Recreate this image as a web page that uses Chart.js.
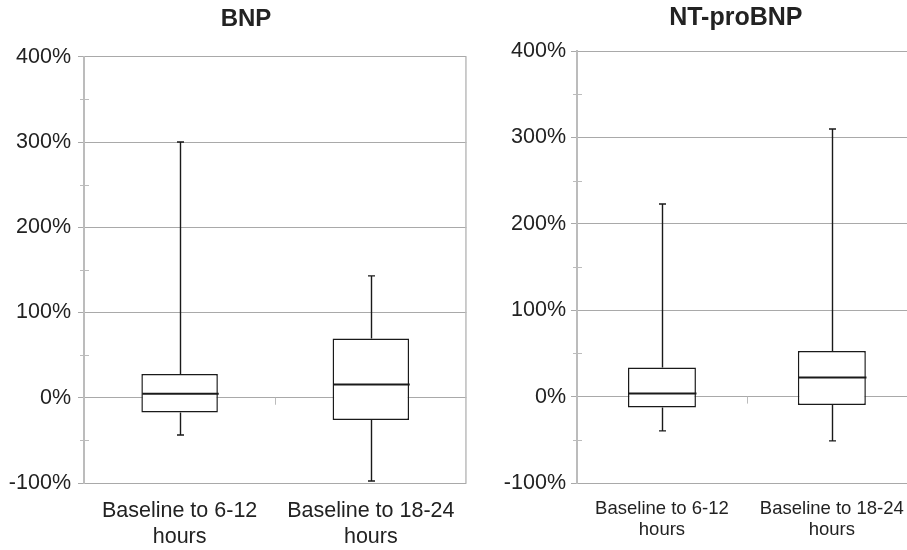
<!DOCTYPE html>
<html>
<head>
<meta charset="utf-8">
<script src="https://cdn.jsdelivr.net/npm/chart.js@4/dist/chart.umd.min.js"></script>
<style>
  html, body { margin: 0; padding: 0; background: #fff; overflow: hidden; width: 907px; height: 550px; }
  .wrap { position: absolute; top: 0; height: 550px; }
  #w1 { left: 0; width: 470px; }
  #w2 { left: 470px; width: 450px; }
</style>
</head>
<body>
<div class="wrap" id="w1"><canvas id="c1"></canvas></div>
<div class="wrap" id="w2"><canvas id="c2"></canvas></div>
<script>
// ---- data ----
const categories = [['Baseline to 6-12', 'hours'], ['Baseline to 18-24', 'hours']];
const yTickValues = [-100, 0, 100, 200, 300, 400];
const yMinorValues = [-50, 50, 150, 250, 350];

const bnpMin    = [-43.7, -97.7];
const bnpQ1     = [-17.2, -26.2];
const bnpMedian = [4.7, 15.6];
const bnpQ3     = [27.8, 69.5];
const bnpMax    = [300, 143];

const ntMin    = [-39.7, -51.3];
const ntQ1     = [-12.7, -9.6];
const ntMedian = [3.5, 22];
const ntQ3     = [33.6, 52.9];
const ntMax    = [223, 309.8];

// ---- styles ----
const FONT = '"Liberation Sans", Arial, Helvetica, sans-serif';
const TEXT = '#222';
const GRID = '#a9a9a9';
const AXIS = '#bcbcbc';
const INK = '#1a1a1a';

const boxPlugin = {
  id: 'boxWhiskers',
  afterLayout(chart) {
    // let the value-axis labels overflow to the left of the (narrow) axis box
    chart.scales.y.left = 0;
  },
  afterDatasetsDraw(chart, args, opts) {
    const ctx = chart.ctx;
    const xs = chart.scales.x, ys = chart.scales.y;
    const meta = chart.getDatasetMeta(0);
    const st = opts.stats;
    ctx.save();
    ctx.strokeStyle = INK;
    for (let i = 0; i < st.min.length; i++) {
      const x = Math.round(xs.getPixelForValue(i)) + 0.5;
      const half = meta.data[i].width / 2;
      const yMin = ys.getPixelForValue(st.min[i]);
      const yQ1 = ys.getPixelForValue(st.q1[i]);
      const yMed = ys.getPixelForValue(st.median[i]);
      const yQ3 = ys.getPixelForValue(st.q3[i]);
      const yMax = ys.getPixelForValue(st.max[i]);
      ctx.lineWidth = 1.4;
      ctx.beginPath();
      ctx.moveTo(x, yQ3); ctx.lineTo(x, yMax);
      ctx.moveTo(x, yQ1); ctx.lineTo(x, yMin);
      ctx.moveTo(x - 3.5, yMax); ctx.lineTo(x + 3.5, yMax);
      ctx.moveTo(x - 3.5, yMin); ctx.lineTo(x + 3.5, yMin);
      ctx.stroke();
      ctx.lineWidth = 2;
      ctx.beginPath();
      ctx.moveTo(x - half, yMed); ctx.lineTo(x + half, yMed);
      ctx.stroke();
    }
    ctx.restore();
  },
  beforeDatasetsDraw(chart) {
    const ctx = chart.ctx;
    const xs = chart.scales.x, ys = chart.scales.y;
    const a = chart.chartArea;
    ctx.save();
    ctx.strokeStyle = AXIS;
    ctx.lineWidth = 1.5;
    // right frame
    ctx.beginPath();
    ctx.moveTo(a.right - 0.5, a.top); ctx.lineTo(a.right - 0.5, a.bottom);
    ctx.stroke();
    // minor ticks crossing the value axis
    ctx.lineWidth = 1;
    ctx.beginPath();
    yMinorValues.forEach(v => {
      const y = Math.round(ys.getPixelForValue(v)) + 0.5;
      ctx.moveTo(a.left - 4, y); ctx.lineTo(a.left + 5, y);
    });
    // category separator tick on the 0% line
    const xm = Math.round((xs.getPixelForValue(0) + xs.getPixelForValue(1)) / 2) + 0.5;
    const y0 = ys.getPixelForValue(0);
    ctx.moveTo(xm, y0); ctx.lineTo(xm, y0 + 7);
    ctx.stroke();
    ctx.restore();
  }
};

function makeChart(id, title, titleSize, titlePad, stats, opt) {
  return new Chart(document.getElementById(id), {
    type: 'bar',
    data: {
      labels: categories,
      datasets: [{
        data: stats.q1.map((q, i) => [q, stats.q3[i]]),
        backgroundColor: '#ffffff',
        borderColor: INK,
        borderWidth: 1.5,
        borderSkipped: false,
        categoryPercentage: 1,
        barPercentage: 0.4
      }]
    },
    options: {
      responsive: true,
      maintainAspectRatio: false,
      animation: false,
      layout: { padding: { left: opt.padLeft, right: opt.padRight, top: 0, bottom: 0 } },
      plugins: {
        legend: { display: false },
        tooltip: { enabled: false },
        title: {
          display: true,
          text: title,
          color: TEXT,
          font: { family: FONT, size: titleSize, weight: 'bold', lineHeight: 1.2 },
          padding: titlePad
        },
        boxWhiskers: { stats: stats }
      },
      scales: {
        x: {
          type: 'category',
          offset: true,
          grid: { display: false, drawTicks: false },
          border: { display: false },
          ticks: {
            color: TEXT,
            maxRotation: 0,
            autoSkip: false,
            padding: opt.xPad,
            font: { family: FONT, size: opt.xFont, lineHeight: opt.xLine }
          },
          afterFit(s) { s.height = 67; }
        },
        y: {
          min: -100,
          max: 400,
          afterBuildTicks(s) {
            s.ticks = yTickValues.map(v => ({ value: v }));
          },
          grid: {
            color: GRID,
            lineWidth: 1,
            tickLength: 6,
            tickColor: GRID
          },
          border: { color: AXIS, width: 2 },
          ticks: {
            color: TEXT,
            padding: opt.yPad,
            font: { family: FONT, size: 21.5 },
            callback: v => v + '%'
          },
          afterFit(s) { s.width = opt.yWidth; }
        }
      }
    },
    plugins: [boxPlugin]
  });
}

makeChart('c1', 'BNP', 24, { top: 5, bottom: 23 },
  { min: bnpMin, q1: bnpQ1, median: bnpMedian, q3: bnpQ3, max: bnpMax },
  { padLeft: 24, padRight: 2, yWidth: 60, yPad: 7, xPad: 15, xFont: 21.5, xLine: 1.2 });

makeChart('c2', 'NT-proBNP', 25, { top: 3.3, bottom: 17.7 },
  { min: ntMin, q1: ntQ1, median: ntMedian, q3: ntQ3, max: ntMax },
  { padLeft: 84.6, padRight: 3, yWidth: 22.4, yPad: 5, xPad: 15.4, xFont: 18.5, xLine: 1.15 });
</script>
</body>
</html>
